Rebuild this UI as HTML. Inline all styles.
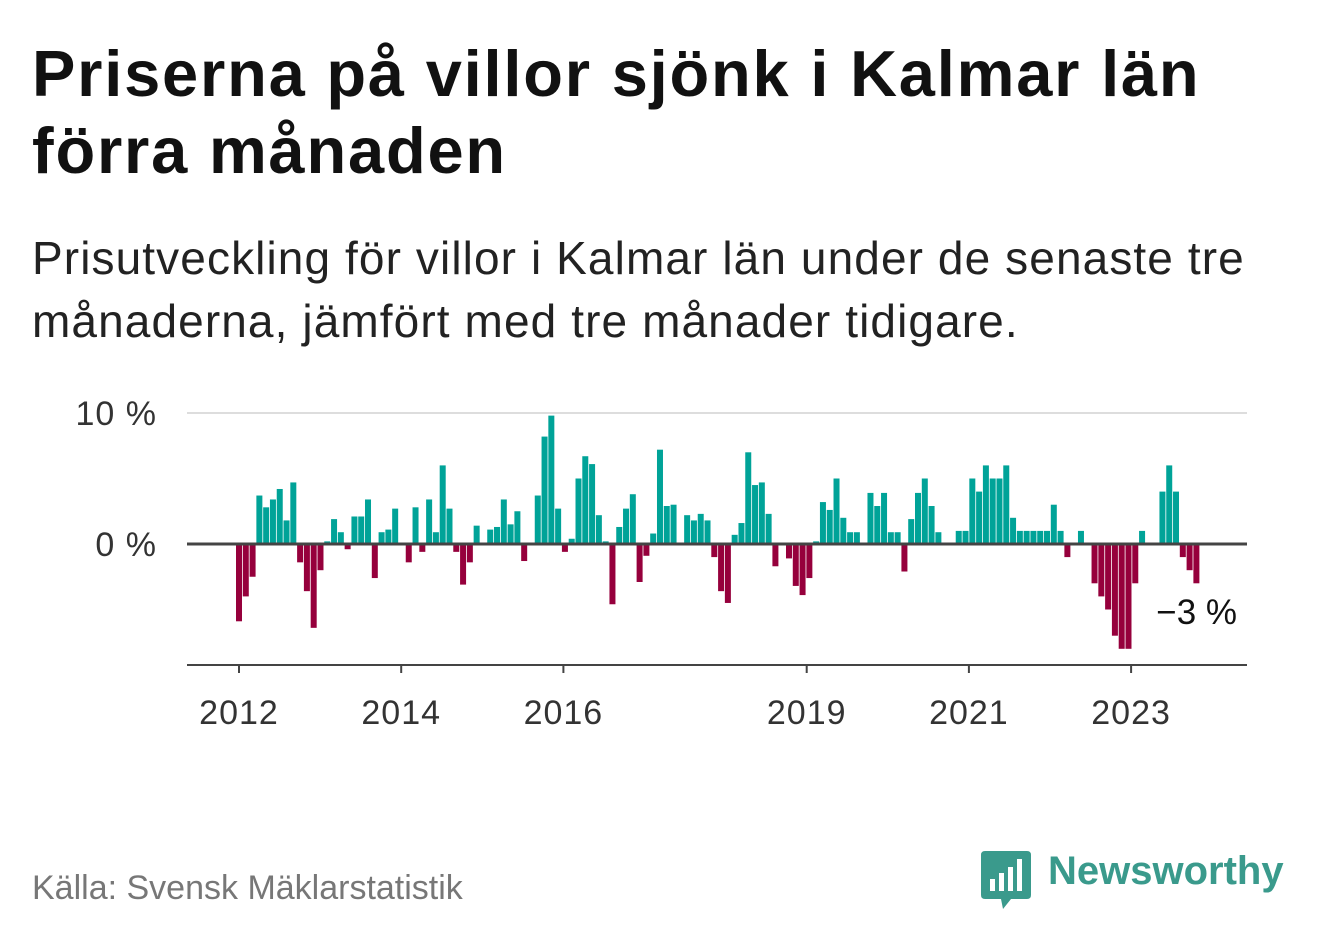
<!DOCTYPE html>
<html><head><meta charset="utf-8"><style>
body{margin:0;width:1322px;height:939px;background:#fff;font-family:"Liberation Sans",sans-serif;overflow:hidden;position:relative}
.t{position:absolute;left:32px;top:35px;font-size:65px;letter-spacing:1.8px;font-weight:bold;color:#111;line-height:77px;margin:0;white-space:nowrap}
.s{position:absolute;left:32px;top:227px;font-size:46px;letter-spacing:1.1px;color:#222;line-height:63px;white-space:nowrap}
.src{position:absolute;left:32px;top:869px;font-size:34px;color:#777}
.logo{position:absolute;left:1048px;top:849px;font-size:40px;font-weight:bold;color:#3a9a8c}
</style></head><body>
<h1 class="t">Priserna på villor sjönk i Kalmar län<br>förra månaden</h1>
<div class="s">Prisutveckling för villor i Kalmar län under de senaste tre<br>månaderna, jämfört med tre månader tidigare.</div>
<svg id="chart" width="1322" height="939" style="position:absolute;left:0;top:0"></svg>
<div class="src">Källa: Svensk Mäklarstatistik</div>
<svg style="position:absolute;left:981px;top:851px" width="50" height="58" viewBox="0 0 50 58">
<path d="M4 0H46Q50 0 50 4V44Q50 48 46 48H30L22 58L20 48H4Q0 48 0 44V4Q0 0 4 0Z" fill="#3a9a8c"/>
<rect x="9" y="28" width="5" height="12" fill="#fff"/><rect x="18" y="22" width="5" height="18" fill="#fff"/><rect x="27" y="16" width="5" height="24" fill="#fff"/><rect x="36" y="8" width="5" height="32" fill="#fff"/>
</svg>
<div class="logo">Newsworthy</div>
<script>
const values=[-5.9,-4.0,-2.5,3.7,2.8,3.4,4.2,1.8,4.7,-1.4,-3.6,-6.4,
-2.0,0.2,1.9,0.9,-0.4,2.1,2.1,3.4,-2.6,0.9,1.1,2.7,
0,-1.4,2.8,-0.6,3.4,0.9,6.0,2.7,-0.6,-3.1,-1.4,1.4,
0,1.1,1.3,3.4,1.5,2.5,-1.3,0,3.7,8.2,9.8,2.7,
-0.6,0.4,5.0,6.7,6.1,2.2,0.2,-4.6,1.3,2.7,3.8,-2.9,
-0.9,0.8,7.2,2.9,3.0,0,2.2,1.8,2.3,1.8,-1.0,-3.6,
-4.5,0.7,1.6,7.0,4.5,4.7,2.3,-1.7,0,-1.1,-3.2,-3.9,
-2.6,0.2,3.2,2.6,5.0,2.0,0.9,0.9,0,3.9,2.9,3.9,
0.9,0.9,-2.1,1.9,3.9,5.0,2.9,0.9,0,0,1,1,
5,4,6,5,5,6,2,1,1,1,1,1,
3,1,-1,0,1,0,-3,-4,-5,-7,-8,-8,
-3,1,0,0,4,6,4,-1,-2,-3];
const yTicks=[0,10];
const yTickLabels=["0 %","10 %"];
const xTickYears=[2012,2014,2016,2019,2021,2023];
const startYear=2012;
const NS="http://www.w3.org/2000/svg";
const svg=document.getElementById('chart');
const x=i=>239+i*6.79;
const xYear=yr=>239+(yr-startYear)*81.1;
const y=v=>544-v*13.1;
function mk(t,a){const e=document.createElementNS(NS,t);for(const k in a)e.setAttribute(k,a[k]);svg.appendChild(e);return e;}
yTicks.forEach((v,k)=>{
 if(v!==0){const g=mk('line',{x1:187,x2:1247,y1:y(v),y2:y(v),stroke:'#ddd','stroke-width':2});
 
 }
 const t=mk('text',{x:157,y:y(v)+12,'text-anchor':'end','font-size':34,'letter-spacing':1,fill:'#333','font-family':'Liberation Sans, sans-serif'});
 t.textContent=yTickLabels[k];
 
 
});
values.forEach((v,i)=>{
 if(v===0)return;
 const r=mk('rect',{x:x(i)-3,y:v>0?y(v):y(0),width:6,height:Math.abs(v)*13.1,fill:v>0?'#00a398':'#96003c'});
 
 
});
const z=mk('line',{x1:187,x2:1247,y1:y(0),y2:y(0),stroke:'#444','stroke-width':3});


const ax=mk('line',{x1:187,x2:1247,y1:665,y2:665,stroke:'#444','stroke-width':2});


xTickYears.forEach(yr=>{
 const px=xYear(yr);
 const tk=mk('line',{x1:px,x2:px,y1:665,y2:673,stroke:'#444','stroke-width':2});
 
 
 const t=mk('text',{x:px,y:724,'text-anchor':'middle','font-size':34,'letter-spacing':1,fill:'#333','font-family':'Liberation Sans, sans-serif'});
 t.textContent=yr;
 
 
});
const a=mk('text',{x:1237,y:624,'text-anchor':'end','font-size':35,fill:'#111','font-family':'Liberation Sans, sans-serif'});
a.textContent='−'+Math.abs(values[values.length-1])+' %';


</script>
</body></html>
